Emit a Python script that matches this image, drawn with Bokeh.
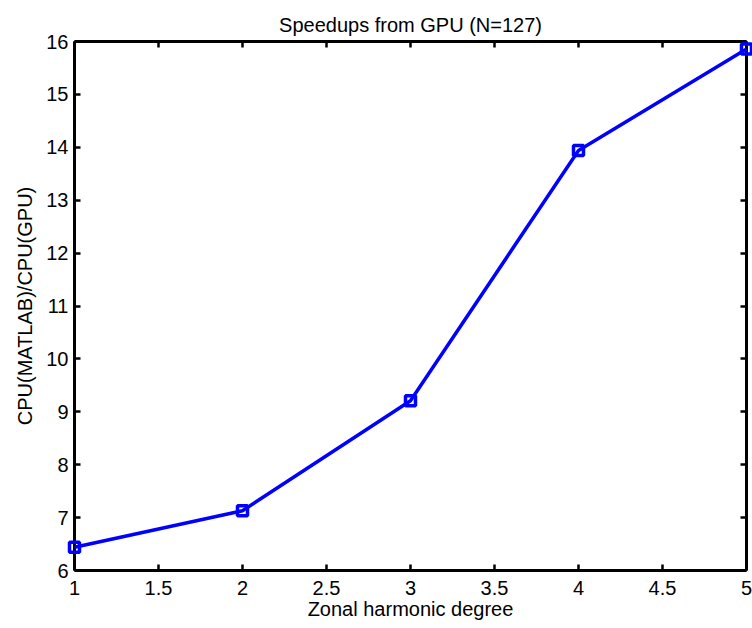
from bokeh.plotting import figure
from bokeh.models import Range1d, LinearAxis, FixedTicker, CustomJSTickFormatter
from bokeh.embed import file_html
from bokeh.resources import INLINE

# Data
degrees = [1, 2, 3, 4, 5]
speedups = [6.44, 7.13, 9.21, 13.94, 15.86]
x_ticks = [1, 1.5, 2, 2.5, 3, 3.5, 4, 4.5, 5]
y_ticks = [6, 7, 8, 9, 10, 11, 12, 13, 14, 15, 16]

FONT = "Liberation Sans"
BLUE = "#0000ff"

p = figure(width=752, height=628, output_backend="svg", toolbar_location=None,
           x_range=Range1d(1, 5), y_range=Range1d(6, 16),
           x_axis_location=None, y_axis_location=None,
           min_border_left=74, min_border_right=6, min_border_top=41,
           min_border_bottom=58)
p.outline_line_color = None
p.grid.visible = False
p.background_fill_color = "white"

p.title.text = "Speedups from GPU (N=127)"
p.title.align = "center"
p.title.text_font = FONT
p.title.text_font_size = "20px"
p.title.text_font_style = "normal"
p.title.text_color = "black"
p.title.standoff = 12


def style(ax, labels=True):
    ax.axis_line_width = 3
    ax.axis_line_color = "black"
    ax.major_tick_line_width = 2.5
    ax.major_tick_line_color = "black"
    ax.major_tick_in = 6
    ax.major_tick_out = 0
    ax.minor_tick_line_color = None
    ax.major_label_text_font = FONT
    ax.major_label_text_font_size = "20px"
    ax.major_label_text_color = "black"
    ax.axis_label_text_font = FONT
    ax.axis_label_text_font_size = "20px"
    ax.axis_label_text_font_style = "normal"
    ax.axis_label_text_color = "black"
    if not labels:
        ax.formatter = CustomJSTickFormatter(code="return ''")
        ax.major_label_standoff = 0


xb = LinearAxis(ticker=FixedTicker(ticks=x_ticks), axis_label="Zonal harmonic degree")
style(xb)
xb.major_label_standoff = 10
xb.axis_label_standoff = 0
xb.major_label_overrides = {1: "1", 2: "2", 3: "3", 4: "4", 5: "5"}
p.add_layout(xb, "below")

xt = LinearAxis(ticker=FixedTicker(ticks=x_ticks))
style(xt, labels=False)
p.add_layout(xt, "above")

yl = LinearAxis(ticker=FixedTicker(ticks=y_ticks), axis_label="CPU(MATLAB)/CPU(GPU)")
style(yl)
yl.major_label_standoff = 6
yl.axis_label_standoff = 7
p.add_layout(yl, "left")

yr = LinearAxis(ticker=FixedTicker(ticks=y_ticks))
style(yr, labels=False)
p.add_layout(yr, "right")

p.line(degrees, speedups, line_color=BLUE, line_width=3.5, level="overlay")
p.scatter(degrees, speedups, marker="square", size=10, fill_color=None,
          line_color=BLUE, line_width=3.5, level="overlay")

open("out.html", "w").write(file_html(p, INLINE))
